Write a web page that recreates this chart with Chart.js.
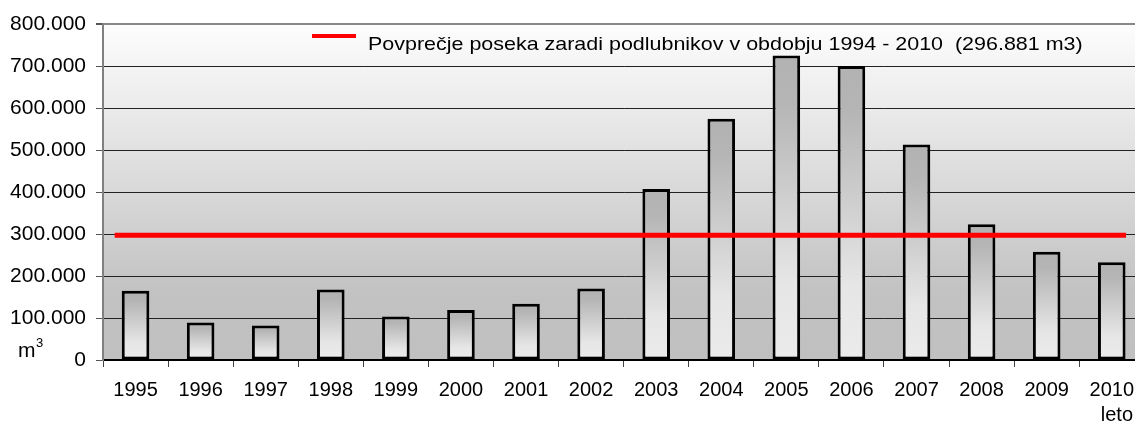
<!DOCTYPE html>
<html>
<head>
<meta charset="utf-8">
<script src="https://cdn.jsdelivr.net/npm/chart.js@4/dist/chart.umd.min.js"></script>
<style>
  html, body { margin: 0; padding: 0; background: #fff; overflow: hidden; }
  #wrap { position: relative; width: 1145px; height: 423px; }
</style>
</head>
<body>
<div id="wrap"><canvas id="posekChart"></canvas></div>
<script>
// podatki
const leta = ['1995', '1996', '1997', '1998', '1999', '2000', '2001', '2002',
  '2003', '2004', '2005', '2006', '2007', '2008', '2009', '2010'];
const posek = [165000, 89500, 82400, 168000, 103800, 119000, 134000, 170500,
  407000, 574500, 725000, 700000, 513000, 323000, 258000, 233000];
const povprecje = 296881;
const povprecjeX = [-0.32, 15.22];
const yOznake = ['0', '100.000', '200.000', '300.000', '400.000',
  '500.000', '600.000', '700.000', '800.000'];
const legendaTekst = 'Povprečje poseka zaradi podlubnikov v obdobju 1994 - 2010  (296.881 m3)';

const FONT = "'Liberation Sans', Arial, sans-serif";

// ozadje risalne povrsine
const ozadje = {
  id: 'ozadje',
  beforeDraw(chart) {
    const { ctx, chartArea: a } = chart;
    const g = ctx.createLinearGradient(0, a.top, 0, a.bottom);
    g.addColorStop(0, '#fdfdfd');
    g.addColorStop(0.8, '#c2c2c2');
    g.addColorStop(1, '#c0c0c0');
    ctx.save();
    ctx.fillStyle = g;
    ctx.fillRect(a.left, a.top, a.right - a.left, a.bottom - a.top);
    ctx.restore();
  }
};

// legenda, enota in oznaka osi
const napisi = {
  id: 'napisi',
  afterDraw(chart) {
    const ctx = chart.ctx;
    ctx.save();
    // legenda
    ctx.strokeStyle = '#ff0000';
    ctx.lineWidth = 4;
    ctx.beginPath();
    ctx.moveTo(312, 36);
    ctx.lineTo(356, 36);
    ctx.stroke();
    ctx.fillStyle = '#000';
    ctx.textBaseline = 'alphabetic';
    ctx.font = '18.5px ' + FONT;
    ctx.translate(368, 50);
    ctx.scale(1.16, 1);
    ctx.fillText(chart.data.datasets[0].label, 0, 0);
    ctx.setTransform(1, 0, 0, 1, 0, 0);
    // m3
    ctx.font = '21px ' + FONT;
    ctx.fillText('m', 18, 357);
    ctx.font = '13px ' + FONT;
    ctx.fillText('3', 36, 347);
    // leto
    ctx.font = '20px ' + FONT;
    ctx.textAlign = 'right';
    ctx.fillText('leto', 1133, 421);
    ctx.restore();
  }
};

function barvaStolpca(c) {
  const chart = c.chart;
  const y = chart.scales.y;
  if (!chart.chartArea || !y) return '#cccccc';
  const vrh = y.getPixelForValue(posek[c.dataIndex]);
  const dno = y.getPixelForValue(0);
  const g = chart.ctx.createLinearGradient(0, vrh, 0, dno);
  g.addColorStop(0, '#b2b2b2');
  g.addColorStop(0.15, '#b5b5b5');
  g.addColorStop(0.75, '#e6e6e6');
  g.addColorStop(1, '#ebebeb');
  return g;
}

new Chart(document.getElementById('posekChart'), {
  data: {
    labels: leta,
    datasets: [
      {
        type: 'line',
        label: legendaTekst,
        data: povprecjeX.map(x => ({ x: x, y: povprecje })),
        xAxisID: 'xl',
        borderColor: '#ff0000',
        borderWidth: 5,
        pointRadius: 0,
        fill: false,
        order: 0
      },
      {
        type: 'bar',
        label: 'posek',
        data: posek,
        xAxisID: 'x',
        grouped: false,
        backgroundColor: barvaStolpca,
        borderColor: '#000000',
        borderWidth: 3,
        borderSkipped: false,
        barPercentage: 0.424,
        categoryPercentage: 1,
        order: 1
      }
    ]
  },
  options: {
    responsive: true,
    maintainAspectRatio: false,
    animation: false,
    layout: { padding: { top: 24, left: 0, right: 0, bottom: 0 } },
    plugins: {
      legend: { display: false },
      tooltip: { enabled: false }
    },
    scales: {
      x: {
        type: 'category',
        offset: true,
        afterFit: s => { s.height = 63; },
        grid: {
          offset: true,
          drawOnChartArea: false,
          tickLength: 7,
          tickColor: '#444'
        },
        border: { color: '#000', width: 2 },
        ticks: {
          color: '#000',
          padding: 11,
          maxRotation: 0,
          font: { family: FONT, size: 20 }
        }
      },
      xl: {
        type: 'linear',
        display: false,
        min: -0.5,
        max: 15.5
      },
      y: {
        min: 0,
        max: 800000,
        afterFit: s => { s.width = 103; },
        ticks: {
          stepSize: 100000,
          color: '#000',
          padding: 10,
          font: { family: FONT, size: 21 },
          callback: (v, i) => yOznake[i]
        },
        grid: {
          color: c => (c.tick && c.tick.value === 800000) ? '#888888' : '#222222',
          lineWidth: c => (c.tick && c.tick.value === 800000) ? 2 : 1,
          tickLength: 7,
          tickColor: '#555'
        },
        border: { color: '#808080', width: 2 }
      }
    }
  },
  plugins: [ozadje, napisi]
});
</script>
</body>
</html>
